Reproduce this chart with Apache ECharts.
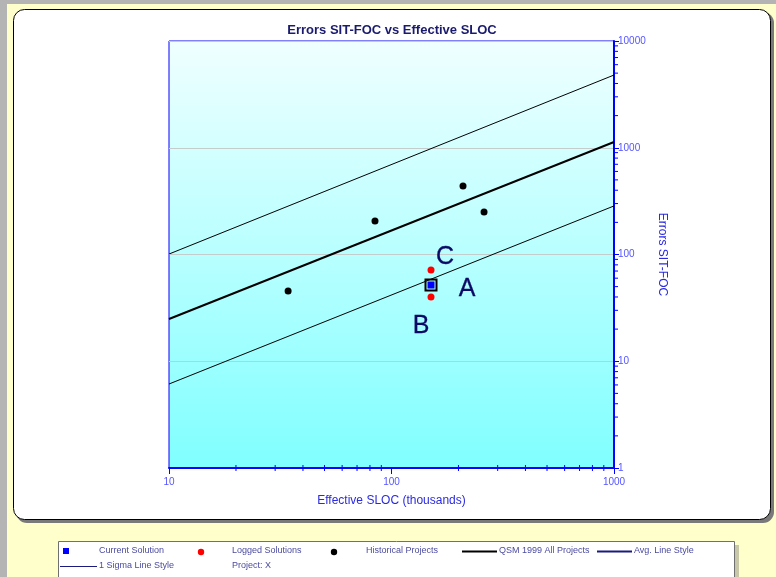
<!DOCTYPE html>
<html><head><meta charset="utf-8">
<script src="https://cdn.jsdelivr.net/npm/echarts@6/dist/echarts.min.js"></script>
<style>html,body{margin:0;padding:0;background:#b4b4b4;}#c{width:776px;height:577px;}</style>
</head><body><div id="c"></div>
<script>
// ---- data ----
const historicalX = [34.3, 84.3, 209.6, 260.6];
const historicalY = [45.5, 206, 438, 250];
const loggedX = [150.5, 150.5];
const loggedY = [71.6, 40];
const loggedLabels = ['C', 'B'];
const currentX = [150.5];
const currentY = [51.8];
const currentLabels = ['A'];
const lineX = [10, 1000];
const avgY = [24.9, 1132];
const upperY = [101, 4800];
const lowerY = [6.12, 285];
const minorTickValues = [2,3,4,5,6,7,8,9,20,30,40,50,60,70,80,90,200,300,400,500,600,700,800,900,2000,3000,4000,5000,6000,7000,8000,9000];
const titleText = 'Errors SIT-FOC vs Effective SLOC';
const xName = 'Effective SLOC (thousands)';
const yName = 'Errors SIT-FOC';

const zip = (a, b) => a.map((v, i) => [v, b[i]]);

const chart = echarts.init(document.getElementById('c'), null, {renderer: 'canvas'});
const navy = '#0a0a66';
const FF = '"Liberation Sans", Arial, sans-serif';
const legTxt = {fill: '#4a4aa0', font: '9px "Liberation Sans", Arial, sans-serif'};

const minorX = minorTickValues.filter(v => v > 10 && v < 1000);
const minorY = minorTickValues.filter(v => v > 1 && v < 10000);

const ptLabel = (text, offset) => ({show: true, formatter: text, position: 'inside', offset: offset,
  fontSize: 25, color: navy, opacity: 1, textBorderWidth: 0.3, textBorderColor: navy, fontFamily: FF});

chart.setOption({
  animation: false,
  backgroundColor: 'transparent',
  title: {
    text: titleText, left: 387, top: 19, textAlign: 'center',
    textStyle: {fontFamily: FF, fontSize: 13, fontWeight: 'bold', color: '#1a1a6e'}
  },
  graphic: [
    {type: 'rect', z: -10, silent: true, shape: {x: 7, y: 4, width: 769, height: 573}, style: {fill: '#ffffcc'}},
    {type: 'rect', z: -9, silent: true, shape: {x: 16, y: 12, width: 758, height: 511, r: 11}, style: {fill: '#7a7a7a'}},
    {type: 'rect', z: -8, silent: true, shape: {x: 13.5, y: 9.5, width: 757, height: 510, r: 11}, style: {fill: '#ffffff', stroke: '#000', lineWidth: 1}},
    {type: 'rect', z: -9, silent: true, shape: {x: 62, y: 545, width: 677, height: 40}, style: {fill: '#c8c8a8'}},
    {type: 'rect', z: -8, silent: true, shape: {x: 58.5, y: 541.5, width: 676, height: 40}, style: {fill: '#ffffff', stroke: '#707070', lineWidth: 1}},
    // legend row 1
    {type: 'rect', silent: true, shape: {x: 63, y: 548, width: 6, height: 6}, style: {fill: '#0000ff'}},
    {type: 'text', silent: true, x: 99, y: 551, style: Object.assign({text: 'Current Solution', textVerticalAlign: 'middle'}, legTxt)},
    {type: 'circle', silent: true, shape: {cx: 201, cy: 552, r: 3.2}, style: {fill: '#ff0000'}},
    {type: 'text', silent: true, x: 232, y: 551, style: Object.assign({text: 'Logged Solutions', textVerticalAlign: 'middle'}, legTxt)},
    {type: 'circle', silent: true, shape: {cx: 334, cy: 552, r: 3.2}, style: {fill: '#000000'}},
    {type: 'text', silent: true, x: 366, y: 551, style: Object.assign({text: 'Historical Projects', textVerticalAlign: 'middle'}, legTxt)},
    {type: 'line', silent: true, shape: {x1: 462, y1: 551.5, x2: 497, y2: 551.5}, style: {stroke: '#000', lineWidth: 2}},
    {type: 'text', silent: true, x: 499, y: 551, style: Object.assign({text: 'QSM 1999 All Projects', textVerticalAlign: 'middle'}, legTxt)},
    {type: 'line', silent: true, shape: {x1: 597, y1: 551.5, x2: 632, y2: 551.5}, style: {stroke: '#1a1a80', lineWidth: 2}},
    {type: 'text', silent: true, x: 634, y: 551, style: Object.assign({text: 'Avg. Line Style', textVerticalAlign: 'middle'}, legTxt)},
    // legend row 2
    {type: 'line', silent: true, shape: {x1: 60, y1: 566.5, x2: 97, y2: 566.5}, style: {stroke: '#1a1a80', lineWidth: 1}},
    {type: 'text', silent: true, x: 99, y: 566, style: Object.assign({text: '1 Sigma Line Style', textVerticalAlign: 'middle'}, legTxt)},
    {type: 'text', silent: true, x: 232, y: 566, style: Object.assign({text: 'Project: X', textVerticalAlign: 'middle'}, legTxt)}
  ],
  grid: {
    left: 169, right: 162, top: 41, bottom: 109, containLabel: false,
    show: true, borderColor: '#0000ff', borderWidth: 1,
    backgroundColor: {type: 'linear', x: 0, y: 0, x2: 0, y2: 1, colorStops: [{offset: 0, color: '#f0ffff'}, {offset: 1, color: '#80ffff'}]}
  },
  xAxis: {
    type: 'log', logBase: 10, min: 10, max: 1000,
    name: xName, nameLocation: 'middle', nameGap: 27,
    nameTextStyle: {color: '#2a2ae0', fontSize: 12, fontFamily: FF},
    axisLine: {show: true, lineStyle: {color: '#0000ff', width: 2}},
    axisTick: {show: true, length: 6, lineStyle: {color: '#0000ff', width: 1}},
    axisLabel: {color: '#5555ff', fontSize: 10, margin: 9, fontFamily: FF, formatter: v => String(Math.round(v))},
    splitLine: {show: false},
    minorTick: {show: false}
  },
  yAxis: {
    type: 'log', logBase: 10, min: 1, max: 10000, position: 'right',
    name: yName, nameLocation: 'middle', nameGap: 41, nameRotate: -90,
    nameTextStyle: {color: '#2a2ae0', fontSize: 12, fontFamily: FF},
    axisLine: {show: true, lineStyle: {color: '#0000ff', width: 2}},
    axisTick: {show: true, length: 5, lineStyle: {color: '#0000ff', width: 1}},
    axisLabel: {color: '#5555ff', fontSize: 10, margin: 4, fontFamily: FF, formatter: v => String(Math.round(v))},
    splitLine: {show: true, lineStyle: {color: '#c4cccc', width: 1}},
    minorTick: {show: false}
  },
  series: [
    {type: 'custom', silent: true, clip: false, z: 5,
     data: minorX.map(v => [v, 1]),
     renderItem: (params, api) => {
       const p = api.coord([api.value(0), 1]);
       return {type: 'line', shape: {x1: p[0], y1: p[1] - 3, x2: p[0], y2: p[1] + 3}, style: {stroke: '#0000ff', lineWidth: 1}};
     }},
    {type: 'custom', silent: true, clip: false, z: 5,
     data: minorY.map(v => [1000, v]),
     renderItem: (params, api) => {
       const p = api.coord([1000, api.value(1)]);
       return {type: 'line', shape: {x1: p[0], y1: p[1], x2: p[0] + 4, y2: p[1]}, style: {stroke: '#0000ff', lineWidth: 1}};
     }},
    {name: 'QSM 1999 All Projects', type: 'line', data: zip(lineX, avgY), symbol: 'none', lineStyle: {color: '#000', width: 2}},
    {name: 'Upper Sigma', type: 'line', data: zip(lineX, upperY), symbol: 'none', lineStyle: {color: '#000', width: 1}},
    {name: 'Lower Sigma', type: 'line', data: zip(lineX, lowerY), symbol: 'none', lineStyle: {color: '#000', width: 1}},
    {name: 'Historical Projects', type: 'scatter', data: zip(historicalX, historicalY), symbol: 'circle', symbolSize: 7, itemStyle: {color: '#000', opacity: 1}},
    {name: 'Logged Solutions', type: 'scatter', symbol: 'circle', symbolSize: 7, itemStyle: {color: '#ff0000', opacity: 1},
     data: loggedX.map((x, i) => ({value: [x, loggedY[i]], label: ptLabel(loggedLabels[i], i === 0 ? [14, -13] : [-10, 29])}))},
    {name: 'Current Box', type: 'scatter', symbol: 'rect', symbolSize: 11, data: zip(currentX, currentY), itemStyle: {color: 'rgba(0,0,0,0)', borderColor: '#000', borderWidth: 2, opacity: 1}},
    {name: 'Current Solution', type: 'scatter', symbol: 'rect', symbolSize: 7,
     data: currentX.map((x, i) => ({value: [x, currentY[i]], label: ptLabel(currentLabels[i], [36, 4])})),
     itemStyle: {color: '#0000ff', opacity: 1}}
  ]
});
</script></body></html>
